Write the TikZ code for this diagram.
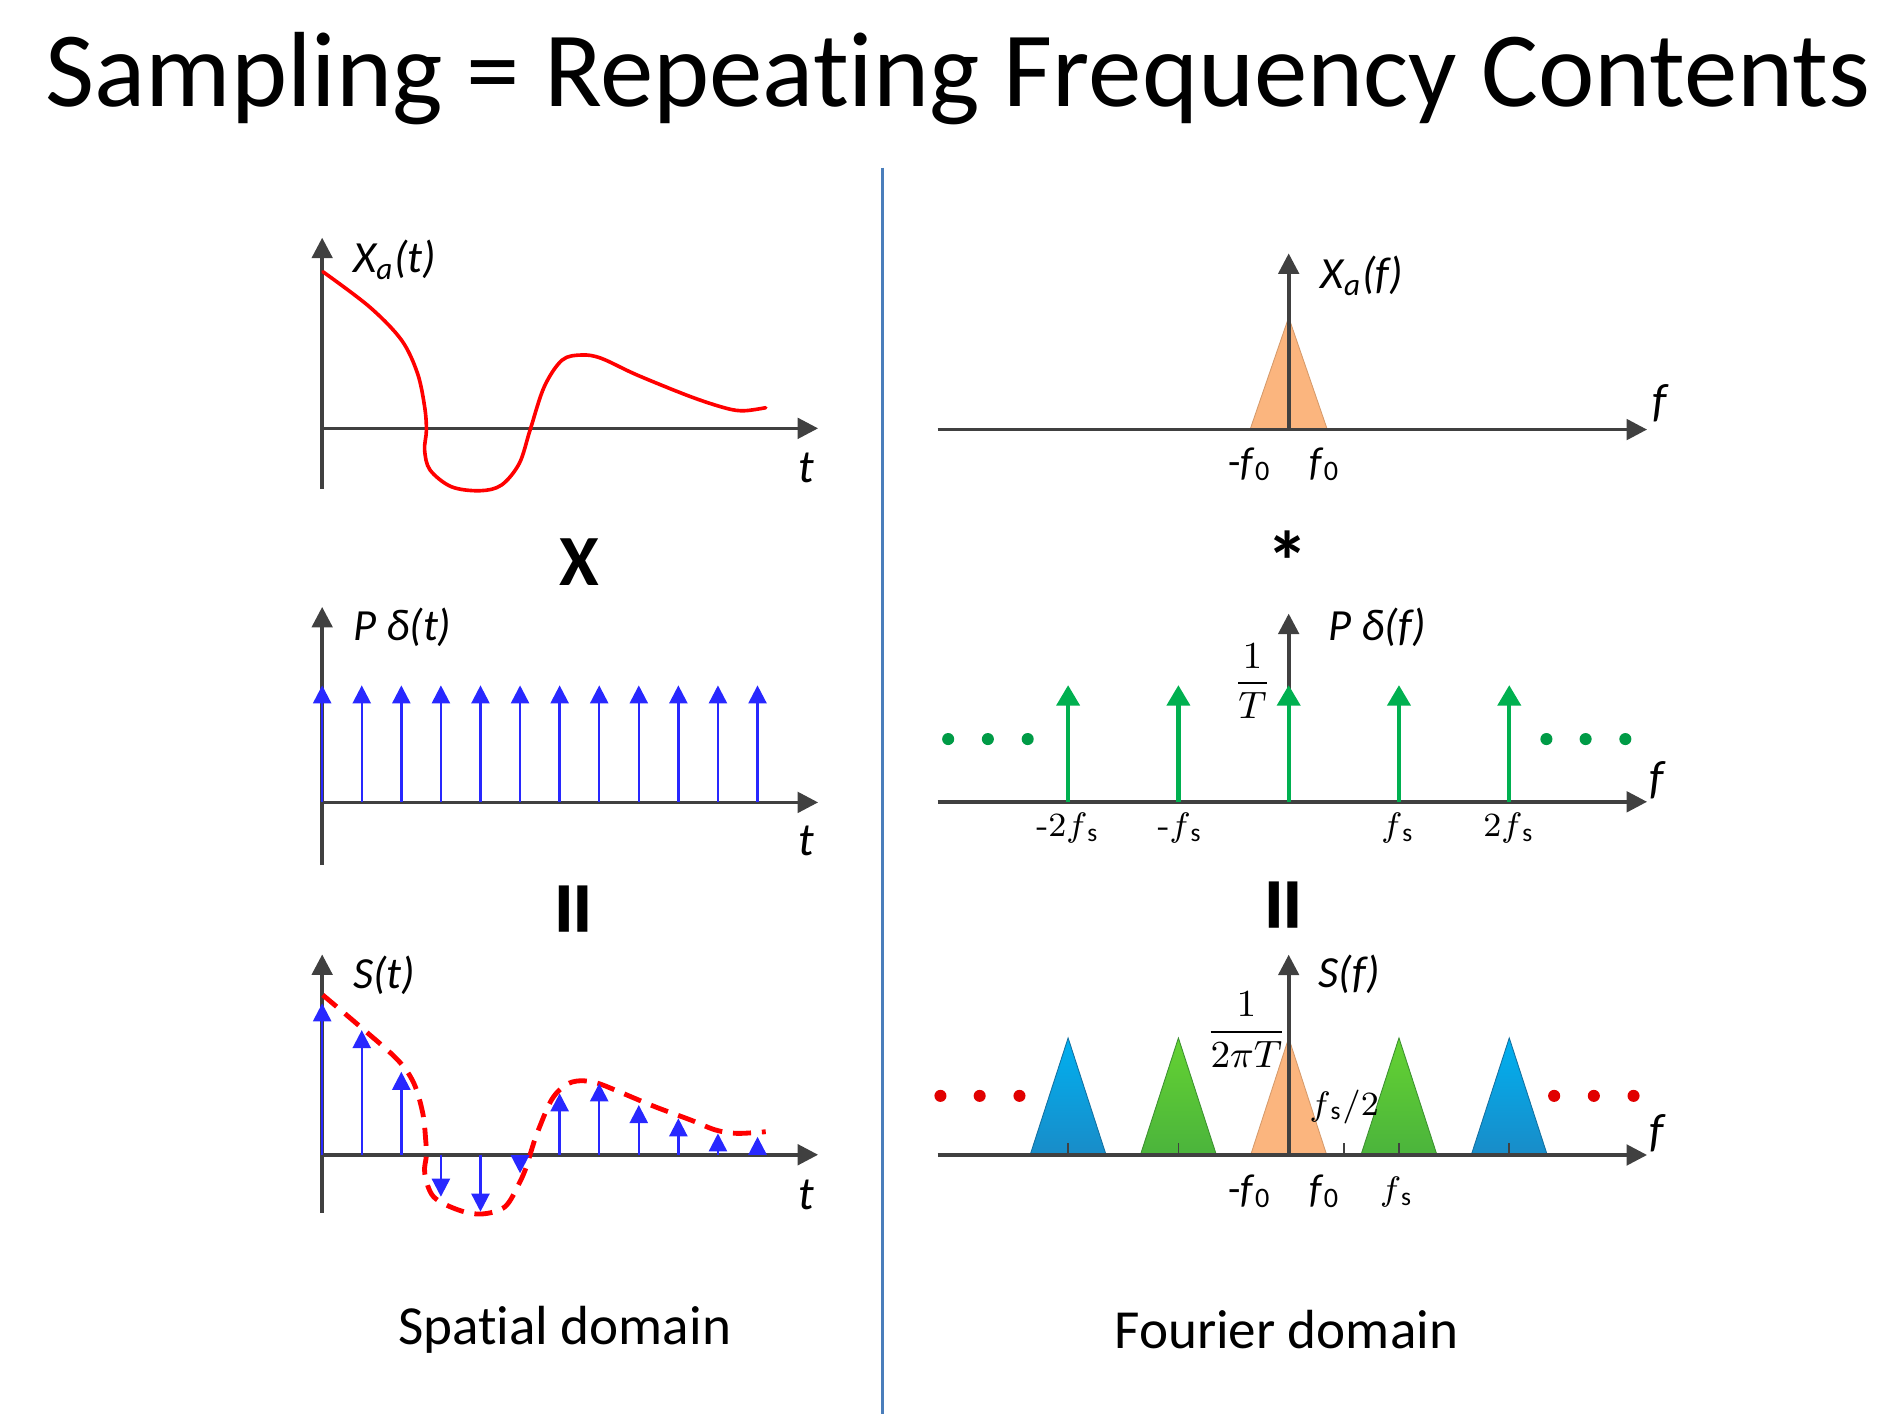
\documentclass[tikz,border=0pt]{standalone}
\usepackage{fontspec}
\newfontfamily\calibri[Ligatures=NoCommon]{Carlito}
\usepackage{tikz}
\usetikzlibrary{arrows.meta,positioning}

\definecolor{axisgray}{RGB}{64,64,64}
\definecolor{curvered}{RGB}{255,0,0}
\definecolor{sampleblue}{RGB}{40,40,255}
\definecolor{combgreen}{RGB}{0,176,80}
\definecolor{dotgreen}{RGB}{0,155,70}
\definecolor{dotred}{RGB}{225,0,0}
\definecolor{peach}{RGB}{251,181,126}
\definecolor{divblue}{RGB}{74,126,187}
\definecolor{cyanA}{RGB}{0,176,240}
\definecolor{cyanB}{RGB}{25,140,200}
\definecolor{limeA}{RGB}{100,210,50}
\definecolor{limeB}{RGB}{75,180,60}

\begin{document}
\begin{tikzpicture}[x=0.1mm, y=-0.1mm,
    axis/.style={draw=axisgray, line width=0.3mm, -{Triangle[length=1.7mm, width=1.7mm]}},
    stem/.style={draw=sampleblue, line width=0.2mm, -{Triangle[length=1.5mm, width=1.5mm]}},
    comb/.style={draw=combgreen, line width=0.35mm, -{Triangle[length=1.7mm, width=1.9mm]}},
    xcurve/.style={draw=curvered, line width=0.3mm, line join=round, line cap=round},
    xdashed/.style={xcurve, line width=0.4mm, line cap=butt, dash pattern=on 1.5mm off 0.9mm},
    axname/.style={font=\calibri\itshape\fontsize{10.5}{12}\selectfont, anchor=west, inner sep=0pt},
    varname/.style={font=\calibri\itshape\fontsize{11}{12}\selectfont, inner sep=0pt},
    ticklab/.style={font=\fontsize{8}{9}\selectfont, inner sep=0pt},
    zerolab/.style={font=\calibri\fontsize{9.5}{10}\selectfont, inner sep=0pt},
    fraclab/.style={font=\fontsize{9}{10}\selectfont, inner sep=0pt},
    greendot/.style={circle, fill=dotgreen, minimum size=1mm, inner sep=0pt},
    reddot/.style={circle, fill=dotred, minimum size=1mm, inner sep=0pt},
    opsign/.style={font=\calibri\bfseries\fontsize{17}{17}\selectfont, inner sep=0pt},
    caption/.style={font=\calibri\fontsize{13}{16}\selectfont}
]
\useasboundingbox (0,0) rectangle (1568,1177);
% Title
\node[anchor=base, font=\calibri\fontsize{25.2}{30}\selectfont] (title) at (794,88) {Sampling = Repeating Frequency Contents};
% Divider
\draw[divblue, line width=0.25mm] (731.5,139) -- (731.5,1172);

% Continuous signal
\begin{scope}[shift={(267,355)}]
\draw[axis] (0,50) -- (0,-158);
\draw[axis] (0,0) -- (411,0);
\draw[xcurve] plot[smooth, tension=0.55] coordinates {(0.6,-129.8) (39.1,-100.8) (65.7,-73.2) (79,-45.6) (84.9,-18) (86.4,1.4) (84.9,18) (89.4,34.5) (107.1,48.4) (130.8,51.7) (148.6,47) (163.4,29) (172.3,1.4) (184.1,-34.6) (198.9,-56.6) (215.2,-60.8) (231.4,-58) (261,-44.2) (305.5,-26.2) (335,-16.6) (349.8,-14.6) (367.6,-17.1)};
\node[axname] (xat) at (25,-140) {X\textsubscript{a}(t)};
\node[varname] (t1) at (401,33) {t};
\end{scope}
\node[opsign] (times) at (480,466) {X};

% Impulse train
\begin{scope}[shift={(267,665)}]
\draw[axis] (0,52) -- (0,-162);
\draw[axis] (0,0) -- (411,0);
\foreach \k in {0,...,11} {
    \draw[stem] (\k*32.8,0) -- (\k*32.8,-97);
}
\node[axname] (pdt) at (25,-145) {P δ(t)};
\node[varname] (t2) at (401,32) {t};
\end{scope}
\node[opsign, rotate=90, font=\calibri\bfseries\fontsize{26}{26}\selectfont] (eqL) at (484,753) {=};

% Sampled signal
\begin{scope}[shift={(267,957)}]
\draw[axis] (0,48) -- (0,-166);
\draw[axis] (0,0) -- (411,0);
\draw[xdashed] plot[smooth, tension=0.55] coordinates {(0.5,-132.4) (33.1,-104.8) (62.7,-78.5) (76,-59.2) (83.4,-34.3) (85.8,-12.2) (86.4,0.3) (85,15.4) (92.3,34.8) (113,45.8) (132.3,49.1) (151.5,43.1) (163.3,23.7) (169.3,9.9) (172.2,0.3) (178.1,-17.7) (190,-45.3) (201.8,-57.8) (213.7,-61.3) (228.5,-59.2) (249.2,-50.9) (275.8,-39.8) (305.4,-28.8) (326.1,-20.5) (343.9,-17.7) (367.6,-19.1)};
\foreach \k/\h in {0/-125.5, 1/-103.3, 2/-68.8, 3/34.8, 4/47.2, 5/15.4, 6/-50.9, 7/-59.2, 8/-41.2, 9/-30.2, 10/-17.7, 11/-14.9} {
    \draw[stem] (\k*32.8,0) -- (\k*32.8,\h);
}
\node[axname] (st) at (25,-149) {S(t)};
\node[varname] (t3) at (401,33) {t};
\end{scope}
\node[caption] (spatial) at (468,1102) {Spatial domain};

% Spectrum of the signal
\begin{scope}[shift={(1068,356)}]
\filldraw[fill=peach, draw=peach!85!black, line width=0.2pt] (-32,0) -- (0,-93) -- (32,0) -- cycle;
\draw[axis] (-291,0) -- (297,0);
\draw[axis] (0,0) -- (0,-146);
\node[axname] (xaf) at (26,-127) {X\textsubscript{a}(f)};
\node[varname] (f1) at (307,-22) {f};
\node[zerolab] (mf0a) at (-32,29) {-\textit{f}\textsubscript{0}};
\node[zerolab] (f0a) at (30,29) {\textit{f}\textsubscript{0}};
\end{scope}
\node[opsign, font=\calibri\bfseries\fontsize{20}{20}\selectfont] (conv) at (1067,465) {*};

% Spectrum of the impulse train
\begin{scope}[shift={(1068,664.5)}]
\draw[axis] (-291,0) -- (297,0);
\draw[axis] (0,0) -- (0,-156);
\foreach \k in {-2,...,2} {
    \draw[comb] (\k*91.4,0) -- (\k*91.4,-96.7);
}
\foreach \x [count=\i] in {-282.2,-249.3,-216.3} {
    \node[greendot] (gl\i) at (\x,-52) {};
}
\foreach \x [count=\i] in {213.6,246.1,279} {
    \node[greendot] (gr\i) at (\x,-52) {};
}
\node[fraclab] (invT) at (-30,-100) {$\displaystyle\frac{1}{T}$};
\node[axname] (pdf) at (32,-145) {P δ(f)};
\node[varname] (f2) at (305,-18) {f};
\node[ticklab] (m2fs) at (-183,22) {-2$f$\textsubscript{\calibri s}};
\node[ticklab] (mfs) at (-90,22) {-$f$\textsubscript{\calibri s}};
\node[ticklab] (fsb) at (90.5,22) {$f$\textsubscript{\calibri s}};
\node[ticklab] (twofs) at (182.5,22) {2$f$\textsubscript{\calibri s}};
\end{scope}
\node[opsign, rotate=90, font=\calibri\bfseries\fontsize{26}{26}\selectfont] (eqR) at (1072,750) {=};

% Spectrum of the sampled signal
\begin{scope}[shift={(1068,957.2)}]
\foreach \k in {-2,2} {
    \shade[top color=cyanA, bottom color=cyanB, draw=cyanB!80!black, line width=0.2pt] (\k*91.4-31.5,0) -- (\k*91.4,-97) -- (\k*91.4+31.5,0) -- cycle;
}
\foreach \k in {-1,1} {
    \shade[top color=limeA, bottom color=limeB, draw=limeB!80!black, line width=0.2pt] (\k*91.4-31.5,0) -- (\k*91.4,-97) -- (\k*91.4+31.5,0) -- cycle;
}
\filldraw[fill=peach, draw=peach!85!black, line width=0.2pt] (-31.5,0) -- (0,-97) -- (31.5,0) -- cycle;
\foreach \x in {-182.8,-91.4,45.7,91.4,182.8} {
    \draw[axisgray, line width=0.4pt] (\x,0) -- (\x,-10);
}
\draw[axis] (-291,0) -- (297,0);
\draw[axis] (0,0) -- (0,-166);
\foreach \x [count=\i] in {-288.6,-256.1,-223.1} {
    \node[reddot] (rl\i) at (\x,-49) {};
}
\foreach \x [count=\i] in {220,252.9,285.8} {
    \node[reddot] (rr\i) at (\x,-49) {};
}
\node[fraclab] (inv2piT) at (-35,-104) {$\displaystyle\frac{1}{2\pi T}$};
\node[axname] (sf) at (24,-150) {S(f)};
\node[ticklab] (half) at (46,-40) {$f$\textsubscript{\calibri s}/2};
\node[varname] (f3) at (305,-18) {f};
\node[zerolab] (mf0b) at (-32,30) {-\textit{f}\textsubscript{0}};
\node[zerolab] (f0b) at (30,30) {\textit{f}\textsubscript{0}};
\node[ticklab] (fsc) at (89.5,31) {$f$\textsubscript{\calibri s}};
\end{scope}
\node[caption] (fourier) at (1066,1102) {Fourier domain};
\end{tikzpicture}
\end{document}
